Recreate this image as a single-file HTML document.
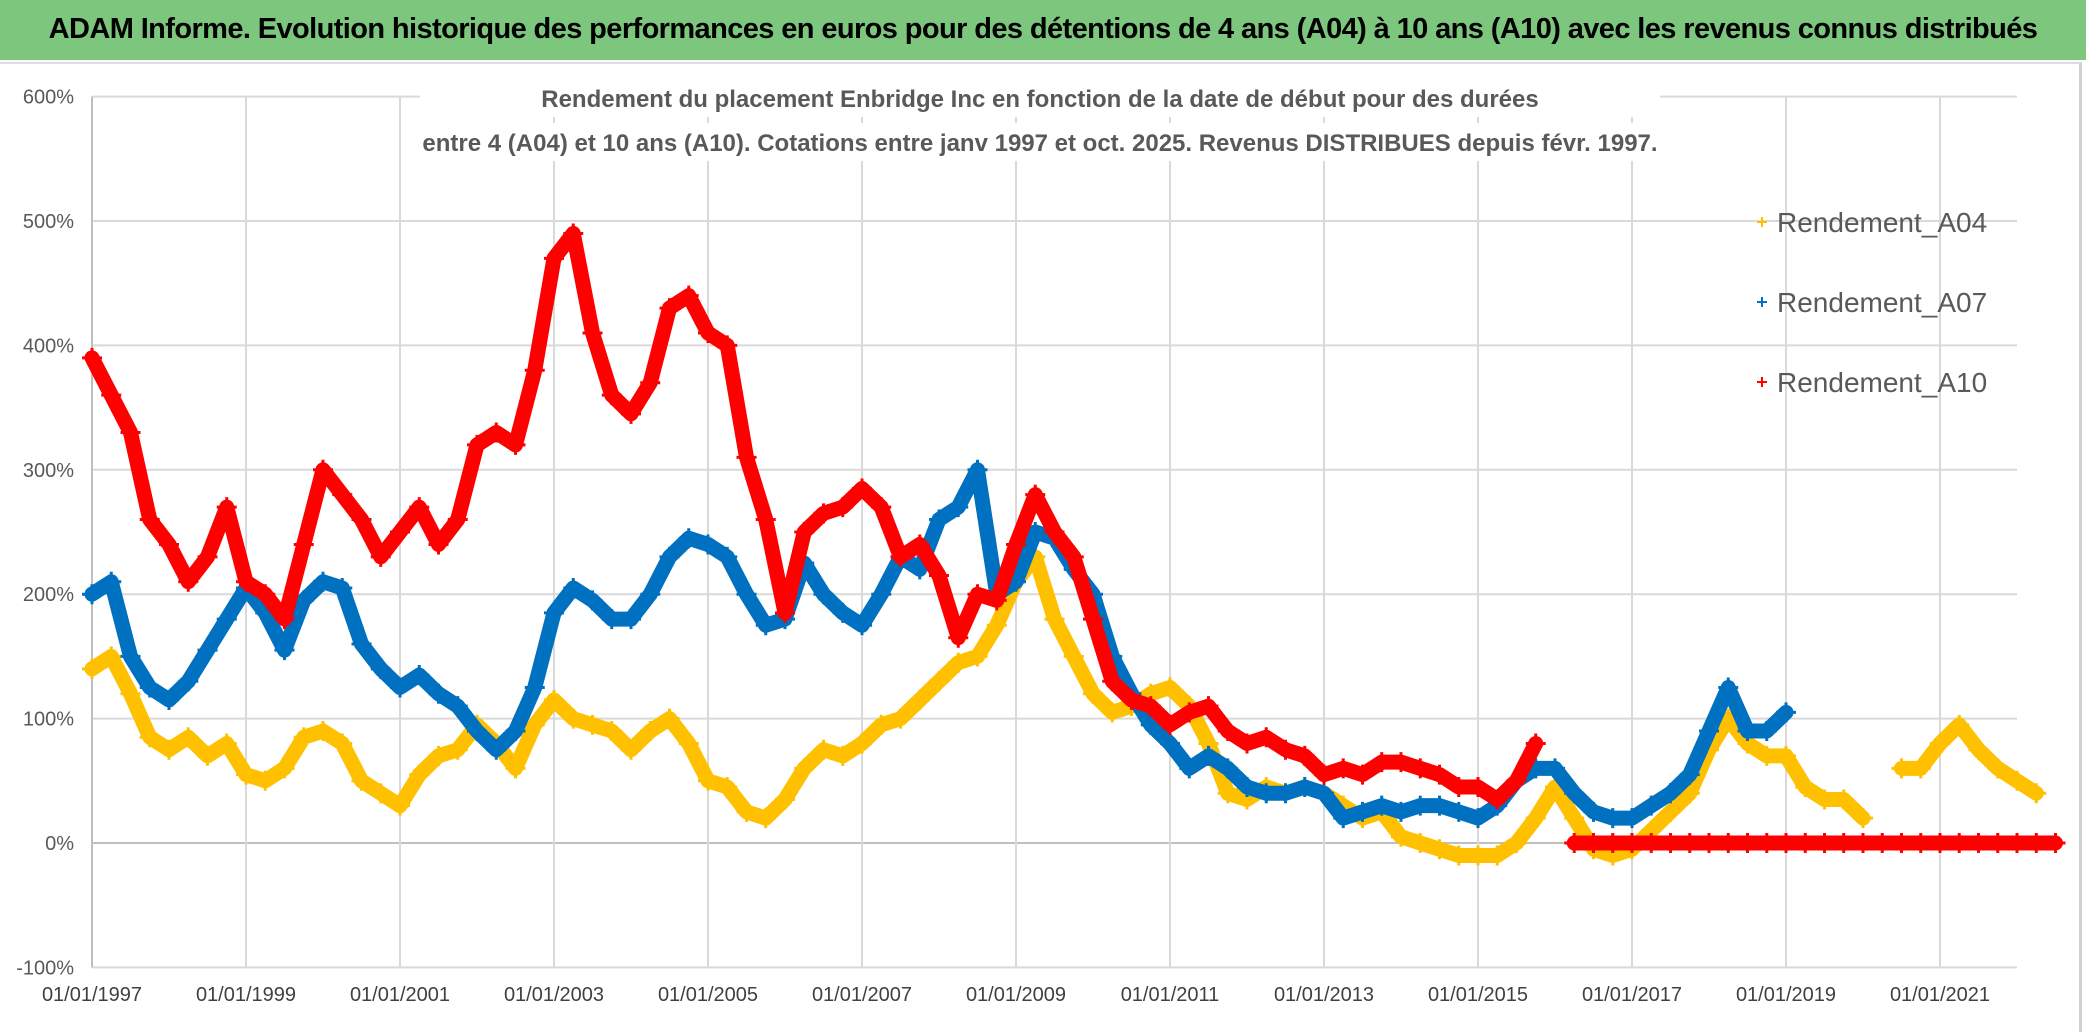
<!DOCTYPE html>
<html><head><meta charset="utf-8"><style>
body{margin:0;width:2086px;height:1032px;overflow:hidden;background:#fff;font-family:"Liberation Sans",sans-serif}
#title{position:absolute;left:0;top:0;width:2086px;height:60px;background:#7dc67d;color:#000;font-weight:bold;font-size:29px;line-height:58px;text-align:center;letter-spacing:-0.6px}
#frame{position:absolute;left:0;top:62px;width:2079px;height:968px;border-right:3px solid #d0d0d0;border-top:2px solid #ddd}
svg{position:absolute;left:0;top:0}
</style></head><body>
<div id="title">ADAM Informe. Evolution historique des performances en euros pour des détentions de 4 ans (A04) à 10 ans (A10) avec les revenus connus distribués</div>
<div id="frame"></div>
<svg id="chart" width="2086" height="1032"></svg>
<script>
const yTicks=[600,500,400,300,200,100,0,-100];
const xTickYears=[1997,1999,2001,2003,2005,2007,2009,2011,2013,2015,2017,2019,2021];
const startYear=1997, stepYears=0.25;
const a04=[140,150,120,85,75,85,70,80,55,50,60,85,90,80,50,40,30,55,70,75,95,80,60,95,115,100,95,90,75,90,100,80,50,45,25,20,35,60,75,70,80,95,100,115,130,145,150,175,210,230,180,150,120,105,110,120,125,110,80,40,35,45,40,45,40,30,20,25,5,0,-5,-10,-10,-10,0,20,45,20,-5,-10,-5,10,25,40,75,100,80,70,70,45,35,35,20,null,60,60,80,95,75,60,50,40];
const a07=[200,210,150,125,115,130,155,180,205,185,155,195,210,205,160,140,125,135,120,110,90,75,90,125,185,205,195,180,180,200,230,245,240,230,200,175,180,225,200,185,175,200,230,220,260,270,300,200,210,250,245,220,200,150,120,95,80,60,70,60,45,40,40,45,40,20,25,30,25,30,30,25,20,30,50,60,60,40,25,20,20,30,40,55,90,125,90,90,105];
const a10=[390,360,330,260,240,210,230,270,210,200,180,240,300,280,260,230,250,270,240,260,320,330,320,380,470,490,410,360,345,370,430,440,410,400,310,260,185,250,265,270,285,270,230,240,215,165,200,195,240,280,250,230,180,130,115,110,95,105,110,90,80,85,75,70,55,60,55,65,65,60,55,45,45,35,50,80,null,0,0,0,0,0,0,0,0,0,0,0,0,0,0,0,0,0,0,0,0,0,0,0,0,0,0];
const seriesNames=["Rendement_A04","Rendement_A07","Rendement_A10"];
const colors=["#ffc000","#0070c0","#ff0000"];
const NS="http://www.w3.org/2000/svg";
const svg=document.getElementById('chart');
const L=92,R=2017,Y0=843,PER=124.4,YPX=77;
const X=t=>L+(t-startYear)*YPX;
const Y=v=>Y0-v*PER/100;
function mk(tag,at){const e=document.createElementNS(NS,tag);for(const k in at)e.setAttribute(k,at[k]);svg.appendChild(e);return e;}
yTicks.forEach(v=>{
 const l=mk('line',{x1:L,x2:R,y1:Y(v),y2:Y(v),stroke:v===0?'#bfbfbf':'#d9d9d9','stroke-width':2});
 
 
 const t=mk('text',{x:L-18,y:Y(v)+7,'text-anchor':'end','font-size':20,fill:'#595959','font-family':'Liberation Sans, sans-serif'});
 t.textContent=v+'%';
 
 
});
xTickYears.forEach(yr=>{
 const l=mk('line',{x1:X(yr),x2:X(yr),y1:Y(600),y2:Y(-100),stroke:'#d9d9d9','stroke-width':2});
 
 
 const t=mk('text',{x:X(yr),y:1001,'text-anchor':'middle','font-size':20,fill:'#404040','font-family':'Liberation Sans, sans-serif'});
 t.textContent='01/01/'+yr;
 
 
});
const ax=mk('line',{x1:L,x2:L,y1:Y(600),y2:Y(-100),stroke:'#bfbfbf','stroke-width':2});


[['Rendement du placement Enbridge Inc en fonction de la date de début pour des durées',107],['entre 4 (A04) et 10 ans (A10). Cotations entre janv 1997 et oct. 2025. Revenus DISTRIBUES depuis févr. 1997.',151]].forEach(([s,y])=>{
 const r=mk('rect',{x:420,y:y-28,width:1240,height:38,fill:'#fff'});
 
 
 const t=mk('text',{x:1040,y:y,'text-anchor':'middle','font-size':24,'font-weight':'bold',fill:'#595959','font-family':'Liberation Sans, sans-serif'});
 t.textContent=s;
 
 
});
function plus(x,y,c,s,w){
 return mk('path',{d:`M${x-s} ${y}H${x+s}M${x} ${y-s}V${y+s}`,stroke:c,'stroke-width':w,fill:'none'});
}
[a04,a07,a10].forEach((arr,si)=>{
 let segs=[],cur=[];
 arr.forEach((v,i)=>{if(v===null){if(cur.length)segs.push(cur);cur=[];}else cur.push([X(startYear+i*stepYears),Y(v)]);});
 if(cur.length)segs.push(cur);
 segs.forEach(sg=>{
  const pl=mk('polyline',{points:sg.map(p=>p.join(',')).join(' '),fill:'none',stroke:colors[si],'stroke-width':15,'stroke-linejoin':'round','stroke-linecap':'round'});
  
  
 });
 arr.forEach((v,i)=>{ if(v===null)return;
  const p=plus(X(startYear+i*stepYears),Y(v),colors[si],10,3);
  
  
 });
});
seriesNames.forEach((n,i)=>{
 const y=222+i*80;
 const p=plus(1762,y,colors[i],5,2);
 
 
 const t=mk('text',{x:1777,y:y+10,'font-size':28,fill:'#595959','font-family':'Liberation Sans, sans-serif'});
 t.textContent=n;
 
 
});
</script>
</body></html>
